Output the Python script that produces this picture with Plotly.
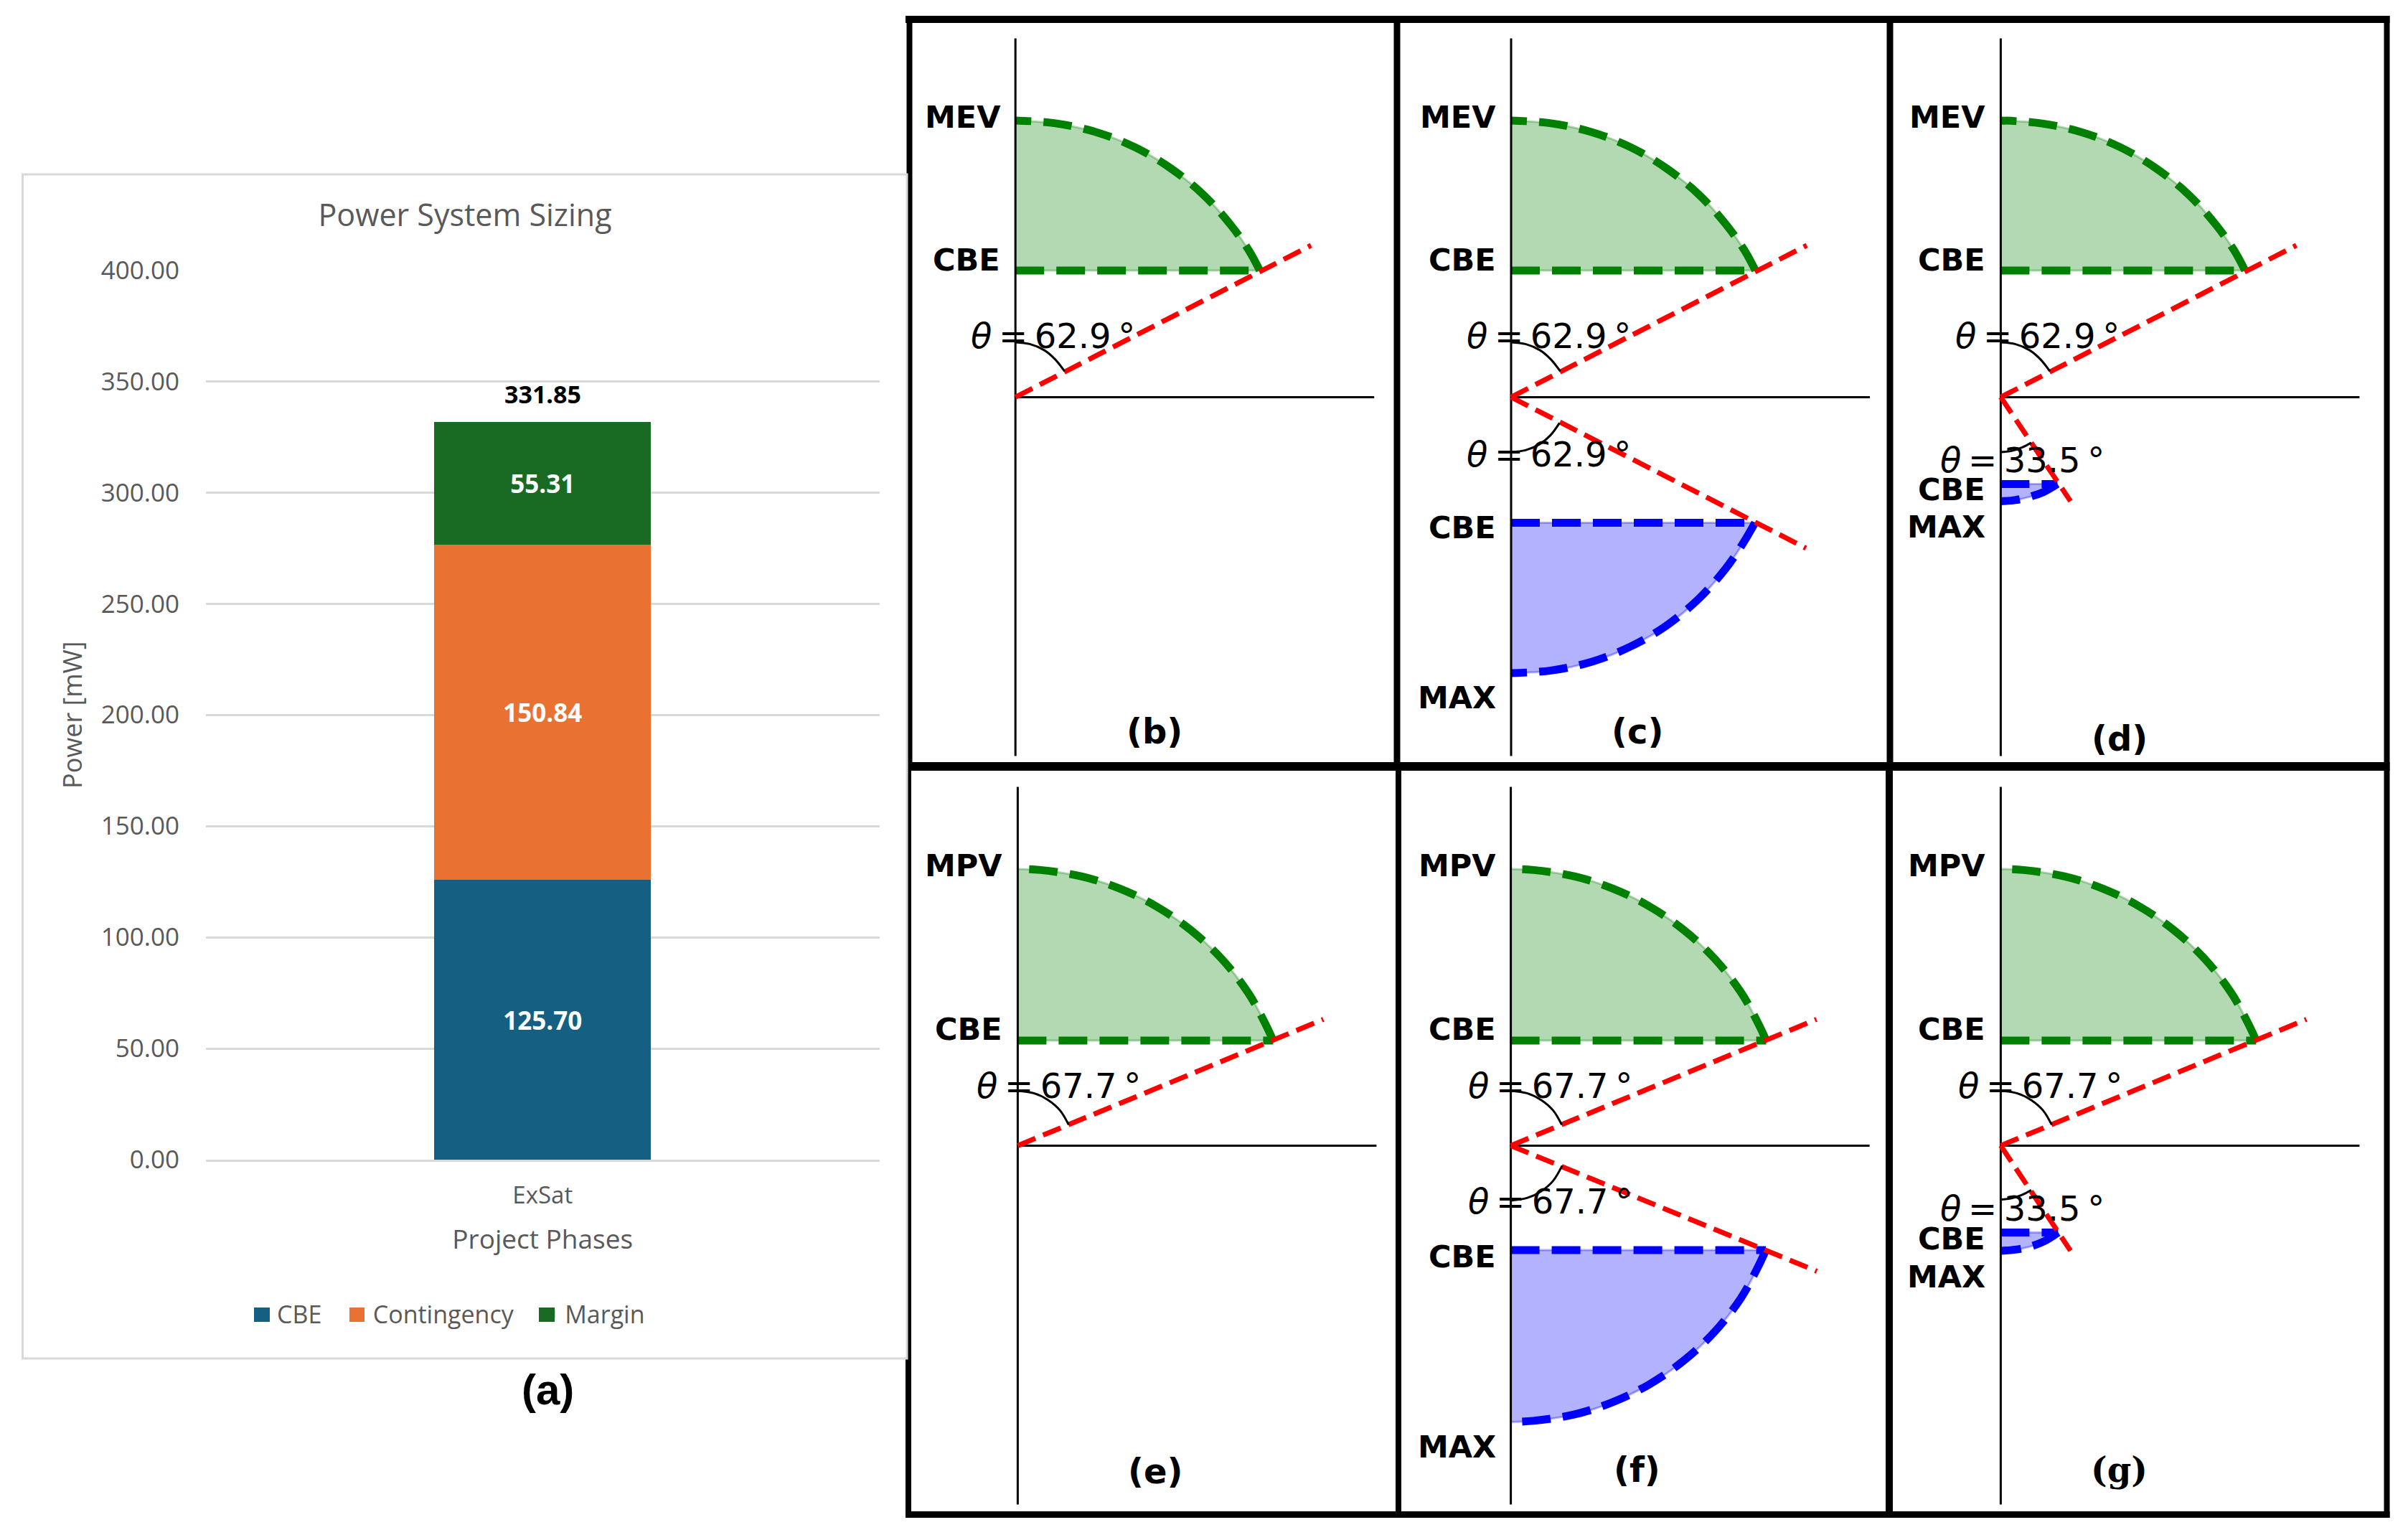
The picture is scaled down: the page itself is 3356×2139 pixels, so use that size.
import plotly.graph_objects as go

W, H = 3356, 2139
# the page keeps its default 8px body margin, so the figure is drawn inside it
PAGE_MARGIN = 8

# ---- bar chart values ----
phases = ["ExSat"]
cbe_power = [125.70]
contingency_power = [150.84]
margin_power = [55.31]
total_power = [331.85]
power_ticks = [0, 50, 100, 150, 200, 250, 300, 350, 400]

# ---- fan curves (axis units) ----
arc_629_x = [0.681, 0.650, 0.600, 0.523, 0.431, 0.332, 0.227, 0.112, 0.0]
arc_629_y = [0.353, 0.410, 0.480, 0.565, 0.639, 0.697, 0.738, 0.763, 0.771]
arc_677_x = [0.712, 0.689, 0.643, 0.569, 0.482, 0.386, 0.285, 0.179, 0.064, 0.0]
arc_677_y = [0.293, 0.342, 0.425, 0.520, 0.601, 0.667, 0.716, 0.750, 0.768, 0.771]
blue_629_x = [0.680, 0.648, 0.598, 0.522, 0.431, 0.331, 0.226, 0.111, 0.0]
blue_629_y = [-0.350, -0.405, -0.478, -0.563, -0.638, -0.696, -0.737, -0.762, -0.769]
blue_677_x = [0.711, 0.687, 0.642, 0.568, 0.481, 0.385, 0.284, 0.178, 0.063, 0.0]
blue_677_y = [-0.291, -0.342, -0.424, -0.519, -0.600, -0.666, -0.715, -0.749, -0.767, -0.770]
blue_d_x = [0.158, 0.120, 0.080, 0.040, 0.0]
blue_d_y = [-0.242, -0.264, -0.278, -0.287, -0.290]
blue_g_x = [0.160, 0.120, 0.080, 0.040, 0.0]
blue_g_y = [-0.242, -0.267, -0.282, -0.290, -0.293]

# angle markers
tick_629_x = [0.0, 0.040, 0.080, 0.110, 0.137]
tick_629_y = [0.153, 0.148, 0.131, 0.106, 0.072]
tick_677_x = [0.0, 0.045, 0.085, 0.118, 0.142]
tick_677_y = [0.153, 0.146, 0.127, 0.098, 0.058]
low_629_x = [0.0, 0.040, 0.080, 0.110, 0.135]
low_629_y = [-0.153, -0.148, -0.131, -0.106, -0.072]
low_677_x = [0.0, 0.045, 0.085, 0.118, 0.143]
low_677_y = [-0.153, -0.146, -0.127, -0.098, -0.056]
low_d_x = [0.0, 0.030, 0.060, 0.085]
low_d_y = [-0.153, -0.150, -0.140, -0.127]
low_g_x = [0.0, 0.030, 0.060, 0.085]
low_g_y = [-0.150, -0.147, -0.137, -0.124]

spine_x = [0, 1]
spine_y = [-1, 1]

upper_629 = dict(arc=(arc_629_x, arc_629_y), cbe=0.353, ray=(0.824, 0.423), tick=(tick_629_x, tick_629_y))
upper_677 = dict(arc=(arc_677_x, arc_677_y), cbe=0.293, ray=(0.852, 0.352), tick=(tick_677_x, tick_677_y))
lower_c = dict(arc=(blue_629_x, blue_629_y), cbe=-0.350, ray=(0.822, -0.421), tick=(low_629_x, low_629_y))
lower_d = dict(arc=(blue_d_x, blue_d_y), cbe=-0.242, ray=(0.1945, -0.290), tick=(low_d_x, low_d_y))
lower_f = dict(arc=(blue_677_x, blue_677_y), cbe=-0.291, ray=(0.853, -0.350), tick=(low_677_x, low_677_y))
lower_g = dict(arc=(blue_g_x, blue_g_y), cbe=-0.242, ray=(0.1945, -0.293), tick=(low_g_x, low_g_y))

panels = [
    dict(ox=1415.2, oy=553.4, upper=upper_629, lower=None,
         labels=[("MEV", 0.781, -0.044), ("CBE", 0.382, -0.047)],
         angles=[("62.9", -0.129, 0.171)]),
    dict(ox=2106.0, oy=553.4, upper=upper_629, lower=lower_c,
         labels=[("MEV", 0.781, -0.046), ("CBE", 0.382, -0.046), ("CBE", -0.364, -0.046), ("MAX", -0.837, -0.046)],
         angles=[("62.9", -0.129, 0.171), ("62.9", -0.129, -0.160)]),
    dict(ox=2788.4, oy=553.4, upper=upper_629, lower=lower_d,
         labels=[("MEV", 0.781, -0.047), ("CBE", 0.382, -0.047), ("CBE", -0.258, -0.047), ("MAX", -0.362, -0.047)],
         angles=[("62.9", -0.130, 0.171), ("33.5", -0.1735, -0.176)]),
    dict(ox=1418.4, oy=1596.4, upper=upper_677, lower=None,
         labels=[("MPV", 0.780, -0.046), ("CBE", 0.324, -0.046)],
         angles=[("67.7", -0.119, 0.167)]),
    dict(ox=2105.6, oy=1596.4, upper=upper_677, lower=lower_f,
         labels=[("MPV", 0.780, -0.046), ("CBE", 0.324, -0.046), ("CBE", -0.309, -0.046), ("MAX", -0.839, -0.046)],
         angles=[("67.7", -0.123, 0.167), ("67.7", -0.123, -0.156)]),
    dict(ox=2788.4, oy=1596.4, upper=upper_677, lower=lower_g,
         labels=[("MPV", 0.780, -0.047), ("CBE", 0.324, -0.047), ("CBE", -0.259, -0.047), ("MAX", -0.365, -0.047)],
         angles=[("67.7", -0.123, 0.167), ("33.5", -0.1735, -0.176)]),
]

FIG_W = W - 2 * PAGE_MARGIN
FIG_H = H - 2 * PAGE_MARGIN


def px(x):
    return (x - PAGE_MARGIN) / FIG_W


def py(y):
    return 1 - (y - PAGE_MARGIN) / FIG_H


GRAY = "#595959"
TEXT_FONT = "Open Sans"
BAR_COLORS = {"CBE": "#156082", "Contingency": "#E97132", "Margin": "#196B24"}

fig = go.Figure()

# Power system sizing bars
# (the nbsp padding spreads the legend entries out as in the original)
for name, values, pad in [("CBE", cbe_power, 3), ("Contingency", contingency_power, 3), ("Margin", margin_power, 0)]:
    fig.add_trace(go.Bar(x=phases, y=values, name=name + "\u00a0" * pad,
                         marker=dict(color=BAR_COLORS[name], line=dict(width=0)),
                         texttemplate="%{y:.2f}", textposition="inside", insidetextanchor="middle",
                         textangle=0, textfont=dict(family=TEXT_FONT, size=35, color="white", weight=700)))

annotations = [
    dict(x=phases[0], y=total_power[0], xref="x", yref="y", text="<b>331.85</b>", showarrow=False,
         yanchor="middle", yshift=39, font=dict(family=TEXT_FONT, size=34, color="black")),
]


def fan(fig, curve, color, fill, xa, ya):
    arc_x, arc_y = curve["arc"]
    edge_x = [arc_x[0], arc_x[-1]]
    edge_y = [curve["cbe"], curve["cbe"]]
    # pale filled sector first, then the dashed outline on top
    fig.add_trace(go.Scatter(x=edge_x, y=edge_y, mode="lines", line=dict(color=fill, width=3),
                             showlegend=False, hoverinfo="skip", xaxis=xa, yaxis=ya))
    fig.add_trace(go.Scatter(x=arc_x, y=arc_y, mode="lines", line=dict(color=fill, width=3, shape="spline"),
                             fill="tonexty", fillcolor=fill, showlegend=False, hoverinfo="skip", xaxis=xa, yaxis=ya))
    fig.add_trace(go.Scatter(x=edge_x[::-1], y=edge_y, mode="lines",
                             line=dict(color=color, width=11, dash="40px,17px"),
                             showlegend=False, hoverinfo="skip", xaxis=xa, yaxis=ya))
    fig.add_trace(go.Scatter(x=arc_x, y=arc_y, mode="lines",
                             line=dict(color=color, width=11, dash="40px,17px", shape="spline"),
                             showlegend=False, hoverinfo="skip", xaxis=xa, yaxis=ya))


def ray_and_tick(fig, curve, xa, ya):
    fig.add_trace(go.Scatter(x=[0, curve["ray"][0]], y=[0, curve["ray"][1]], mode="lines",
                             line=dict(color="red", width=7, dash="26.6px,11.6px"),
                             showlegend=False, hoverinfo="skip", xaxis=xa, yaxis=ya))
    fig.add_trace(go.Scatter(x=curve["tick"][0], y=curve["tick"][1], mode="lines",
                             line=dict(color="black", width=3, shape="spline"),
                             showlegend=False, hoverinfo="skip", xaxis=xa, yaxis=ya))


layout_axes = {}
for i, p in enumerate(panels):
    n = i + 2
    xa, ya = f"x{n}", f"y{n}"
    layout_axes[f"xaxis{n}"] = dict(domain=[px(p["ox"] - 100), px(p["ox"] + 550)], range=[-0.2, 1.1],
                                    visible=False, anchor=ya, automargin=False)
    layout_axes[f"yaxis{n}"] = dict(domain=[py(p["oy"] + 525), py(p["oy"] - 525)], range=[-1.05, 1.05],
                                    visible=False, anchor=xa, automargin=False)

    fan(fig, p["upper"], "green", "rgba(0,128,0,0.3)", xa, ya)
    if p["lower"]:
        fan(fig, p["lower"], "blue", "rgba(0,0,255,0.3)", xa, ya)

    # the two axis lines
    fig.add_trace(go.Scatter(x=[0, 0], y=spine_y, mode="lines", line=dict(color="black", width=3),
                             showlegend=False, hoverinfo="skip", xaxis=xa, yaxis=ya))
    fig.add_trace(go.Scatter(x=spine_x, y=[0, 0], mode="lines", line=dict(color="black", width=3),
                             showlegend=False, hoverinfo="skip", xaxis=xa, yaxis=ya))

    ray_and_tick(fig, p["upper"], xa, ya)
    if p["lower"]:
        ray_and_tick(fig, p["lower"], xa, ya)

    for text, y, x in p["labels"]:
        annotations.append(dict(x=x, y=y, xref=xa, yref=ya, text=f"<b>{text}</b>", showarrow=False,
                                xanchor="right", yanchor="middle", xshift=4,
                                font=dict(family="DejaVu Sans", size=43, color="black")))
    for value, x, y in p["angles"]:
        annotations.append(dict(x=x, y=y, xref=xa, yref=ya, text=f"<i>θ</i>\u2009=\u2009{value}\u2009°", showarrow=False,
                                xanchor="left", yanchor="middle",
                                font=dict(family="DejaVu Sans", size=48, color="black")))

# sub-figure captions
for text, cx, cy, family, size in [("(a)", 763, 1936, "Liberation Sans", 60),
                                   ("(b)", 1609, 1019, "DejaVu Sans", 48),
                                   ("(c)", 2281.5, 1019, "DejaVu Sans", 48),
                                   ("(d)", 2953.7, 1029, "DejaVu Sans", 48),
                                   ("(e)", 1610, 2050, "DejaVu Sans", 48),
                                   ("(f)", 2281.5, 2048, "DejaVu Sans", 48),
                                   ("(g)", 2953.7, 2048, "DejaVu Serif", 48)]:
    annotations.append(dict(x=px(cx), y=py(cy), xref="paper", yref="paper", text=f"<b>{text}</b>", showarrow=False,
                            xanchor="center", yanchor="middle", font=dict(family=family, size=size, color="black")))


def frame_line(x0, y0, x1, y1, width):
    return dict(type="line", xref="paper", yref="paper", x0=px(x0), y0=py(y0), x1=px(x1), y1=py(y1),
                line=dict(color="black", width=width), layer="below")


def legend_square(x0, x1, color):
    # plotly's own bar swatch is a fixed 12px, the original's are larger
    return dict(type="rect", xref="paper", yref="paper", x0=px(x0), x1=px(x1), y0=py(1842), y1=py(1822),
                fillcolor=color, line=dict(width=0), layer="above")


shapes = [
    frame_line(1262, 27, 3330.5, 27, 10),
    frame_line(1262, 1068, 3330.5, 1068, 12),
    frame_line(1262, 2110.5, 3330.5, 2110.5, 9),
    frame_line(1267.5, 22, 1267.5, 1074, 8),
    frame_line(1266, 1062, 1266, 2115, 8),
    frame_line(1947, 22, 1947, 1074, 9),
    frame_line(1949, 1062, 1949, 2115, 8),
    frame_line(2634, 22, 2634, 1074, 9),
    frame_line(2633, 1062, 2633, 2115, 10),
    frame_line(3326.5, 22, 3326.5, 2115, 8),
    # chart card of (a), sits over the left edge of the frame
    dict(type="rect", xref="paper", yref="paper", x0=px(31.5), y0=py(1893), x1=px(1264), y1=py(243),
         fillcolor="white", line=dict(color="#D9D9D9", width=3), layer="below"),
    legend_square(354, 376, BAR_COLORS["CBE"]),
    legend_square(487, 508, BAR_COLORS["Contingency"]),
    legend_square(751, 773, BAR_COLORS["Margin"]),
]

fig.update_layout(
    width=FIG_W, height=FIG_H, autosize=False,
    margin=dict(l=0, r=0, t=0, b=0),
    paper_bgcolor="white", plot_bgcolor="rgba(0,0,0,0)",
    barmode="stack", bargap=0.678,
    title=dict(text="Power System Sizing", x=px(648), y=py(300), xanchor="center", yanchor="middle",
               font=dict(family=TEXT_FONT, size=43, color=GRAY)),
    xaxis=dict(domain=[px(287), px(1225.5)], anchor="y", range=[-0.5, 0.5], showgrid=False, automargin=False,
               linecolor="#D9D9D9", linewidth=3, showline=True, ticks="",
               ticklabelstandoff=18,
               tickfont=dict(family=TEXT_FONT, size=33, color=GRAY),
               title=dict(text="Project Phases", standoff=29, font=dict(family=TEXT_FONT, size=37, color=GRAY))),
    yaxis=dict(domain=[py(1616), py(376.4)], anchor="x", range=[0, 400], tickvals=power_ticks, automargin=False,
               tickformat=".2f", gridcolor="#D9D9D9", gridwidth=2.5, zeroline=False, ticks="",
               ticklabelstandoff=36,
               tickfont=dict(family=TEXT_FONT, size=35, color=GRAY),
               title=dict(text="Power [mW]", standoff=15, font=dict(family=TEXT_FONT, size=36, color=GRAY))),
    legend=dict(orientation="h", x=px(625), y=py(1831), xanchor="center", yanchor="middle",
                font=dict(family=TEXT_FONT, size=34, color=GRAY), bgcolor="rgba(0,0,0,0)", traceorder="normal"),
    annotations=annotations,
    shapes=shapes,
    **layout_axes,
)

fig.write_html("out.html")
